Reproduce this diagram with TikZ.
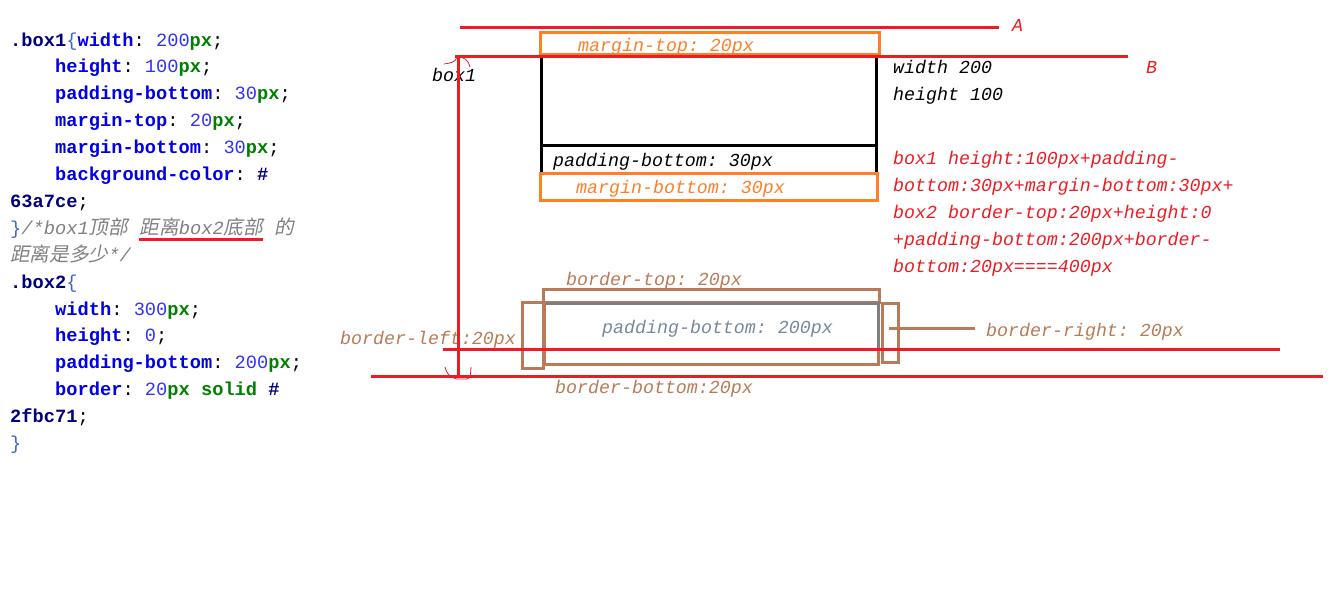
\documentclass[tikz,border=0pt]{standalone}
\usepackage{fontspec}
\setmonofont{Liberation Mono}
\newfontfamily\cjkfont[Scale=1.05,FakeSlant=0.2]{Noto Sans CJK SC}
\definecolor{mspred}{RGB}{237,28,36}
\definecolor{msporange}{RGB}{255,127,39}
\definecolor{mspbrown}{RGB}{185,122,87}
\definecolor{mspgray}{RGB}{127,127,127}
\definecolor{padtext}{RGB}{120,135,155}
\definecolor{selnavy}{RGB}{0,0,128}
\definecolor{propblue}{RGB}{0,0,230}
\definecolor{numblue}{RGB}{50,50,255}
\definecolor{unitgreen}{RGB}{0,128,0}
\definecolor{bracecol}{RGB}{60,100,200}
\definecolor{cmtgray}{RGB}{128,128,128}
\newcommand{\csssel}[1]{\textcolor{selnavy}{\bfseries #1}}
\newcommand{\cssprop}[1]{\textcolor{propblue}{\bfseries #1}}
\newcommand{\cssnum}[1]{\textcolor{numblue}{#1}}
\newcommand{\cssunit}[1]{\textcolor{unitgreen}{\bfseries #1}}
\newcommand{\cssbrace}[1]{\textcolor{bracecol}{#1}}
\newcommand{\cjktext}[1]{\smash{\cjkfont #1}}
\begin{document}
\begin{tikzpicture}[x=1pt,y=-1pt,
	codeline/.style={anchor=base west,inner sep=0pt,font=\ttfamily\fontsize{18.7}{20}\selectfont},
	note/.style={anchor=base west,inner sep=0pt,font=\ttfamily\itshape\fontsize{18.3}{20}\selectfont},
	redline/.style={draw=mspred,line width=3pt},
	squig/.style={draw=mspred,line width=0.8pt},
	orangebox/.style={draw=msporange,line width=3pt},
	brownbox/.style={draw=mspbrown,line width=3pt},
	blackbox/.style={draw=black,line width=3pt}]
		\useasboundingbox (0,0) rectangle (1341,597);
		% css source
		\node[codeline] (l0) at (10,46) {\csssel{.box1}\cssbrace{\{}\cssprop{width}: \cssnum{200}\cssunit{px};};
		\node[codeline] (l1) at (55,72.9) {\cssprop{height}: \cssnum{100}\cssunit{px};};
		\node[codeline] (l2) at (55,99.8) {\cssprop{padding-bottom}: \cssnum{30}\cssunit{px};};
		\node[codeline] (l3) at (55,126.7) {\cssprop{margin-top}: \cssnum{20}\cssunit{px};};
		\node[codeline] (l4) at (55,153.6) {\cssprop{margin-bottom}: \cssnum{30}\cssunit{px};};
		\node[codeline] (l5) at (55,180.5) {\cssprop{background-color}: \csssel{\#}};
		\node[codeline] (l6) at (10,207.4) {\csssel{63a7ce};};
		\node[codeline] (cmtA) at (10,234.3) {\cssbrace{\}}\textcolor{cmtgray}{\itshape /*box1\cjktext{顶部}}};
		\node[codeline,text=cmtgray] (cmtB) at ([xshift=11.25]cmtA.base east) {\itshape\cjktext{距离}box2\cjktext{底部}};
		\node[codeline,text=cmtgray] (cmtC) at ([xshift=11.25]cmtB.base east) {\itshape\cjktext{的}};
		\draw[mspred,line width=2.5pt] ([yshift=-5]cmtB.base west) -- ([yshift=-5]cmtB.base east);
		\node[codeline,text=cmtgray] (l8) at (10,261.2) {\itshape\cjktext{距离是多少}*/};
		\node[codeline] (l9) at (10,288.1) {\csssel{.box2}\cssbrace{\{}};
		\node[codeline] (l10) at (55,315) {\cssprop{width}: \cssnum{300}\cssunit{px};};
		\node[codeline] (l11) at (55,341.9) {\cssprop{height}: \cssnum{0};};
		\node[codeline] (l12) at (55,368.8) {\cssprop{padding-bottom}: \cssnum{200}\cssunit{px};};
		\node[codeline] (l13) at (55,395.7) {\cssprop{border}: \cssnum{20}\cssunit{px solid} \csssel{\#}};
		\node[codeline] (l14) at (10,422.6) {\csssel{2fbc71};};
		\node[codeline] (l15) at (10,449.5) {\cssbrace{\}}};
		% box1
		\draw[orangebox] (540,32) rectangle (879,54);
		\draw[blackbox] (541,56.5) rectangle (876,173);
		\draw[blackbox] (541,145) -- (876,145);
		\draw[orangebox] (540,173) rectangle (877,200);
		\node[note,text=msporange] (mt) at (578,51) {margin-top: 20px};
		\node[note] (pb1) at (553,166) {padding-bottom: 30px};
		\node[note,text=msporange] (mb) at (576,193) {margin-bottom: 30px};
		\node[note] (w1) at (893,73) {width 200};
		\node[note] (h1) at (893,100) {height 100};
		\node[note] (bx1) at (432,81) {box1};
		% box2
		\draw[brownbox] (543,289) rectangle (879,302);
		\draw[brownbox] (544,303) rectangle (878,364);
		\draw[mspgray,line width=3pt] (546,303) -- (878,303) -- (878,349);
		\draw[brownbox] (522,302) rectangle (543,368);
		\draw[brownbox] (882,303) rectangle (898,362);
		\node[note,text=mspbrown] (bt) at (566,285) {border-top: 20px};
		\node[note,text=padtext] (pb2) at (602,333) {padding-bottom: 200px};
		\node[note,text=mspbrown] (bl) at (340,344) {border-left:20px};
		\node[note,text=mspbrown] (bb) at (555,393) {border-bottom:20px};
		\node[note,text=mspbrown] (br) at (986,336) {border-right: 20px};
		\coordinate (brA) at (889,328);
		\draw[brownbox] (brA) -- ([xshift=-11]br.west |- brA);
		% sum
		\foreach \t [count=\i from 0] in {box1 height:100px+padding-, bottom:30px+margin-bottom:30px+, box2 border-top:20px+height:0, +padding-bottom:200px+border-, bottom:20px====400px}
			\node[note,text=mspred] (sum\i) at (893,164+27*\i) {\t};
		% red guides
		\coordinate (A0) at (460,27);
		\coordinate (A1) at (999,27);
		\coordinate (B0) at (455,56);
		\coordinate (B1) at (1128,56);
		\coordinate (V0) at (458,56);
		\coordinate (V1) at (458,378);
		\coordinate (C0) at (443,349);
		\coordinate (C1) at (1280,349);
		\coordinate (D0) at (371,376);
		\coordinate (D1) at (1323,376);
		\draw[redline] (A0) -- (A1);
		\draw[redline] (B0) -- (B1);
		\draw[redline] (V0) -- (V1);
		\draw[redline] (C0) -- (C1);
		\draw[redline] (D0) -- (D1);
		\node[note,text=mspred] (labA) at (1012,31) {A};
		\node[note,text=mspred] (labB) at (1146,73) {B};
		\draw[squig] (444,64) to[out=10,in=-100] (457,57) to[out=10,in=100] (470,67);
		\draw[squig] (445,367) to[out=-80,in=170] (457,379) -- (467,379) to[out=10,in=-100] (471,367);
\end{tikzpicture}
\end{document}
